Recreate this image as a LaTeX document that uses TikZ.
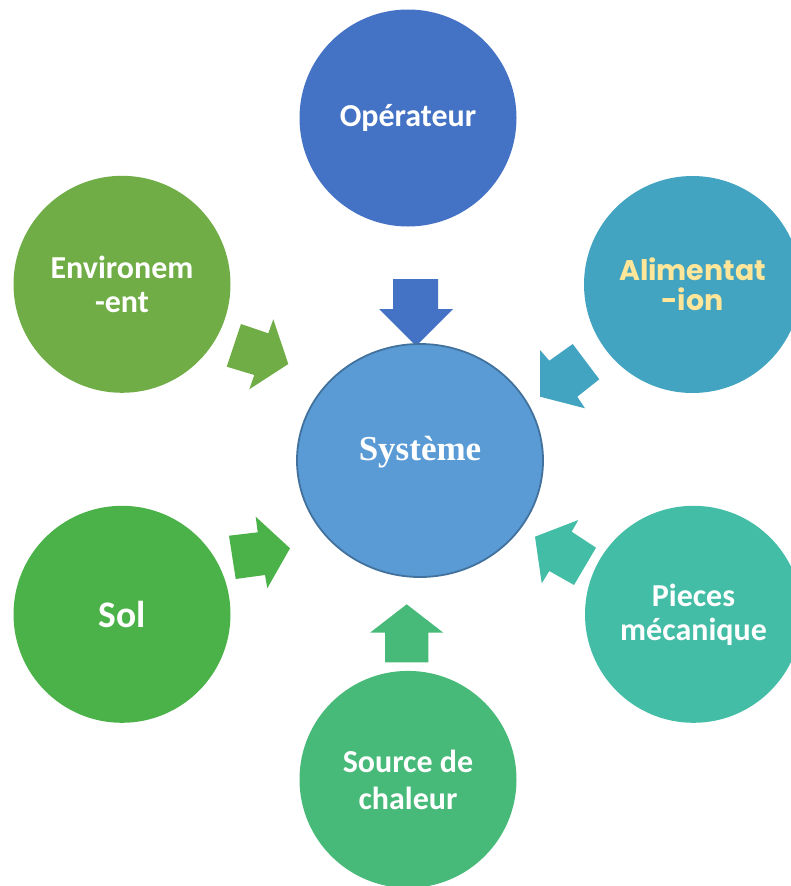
\documentclass[tikz,border=0pt]{standalone}
\usepackage{fontspec}
\usetikzlibrary{shapes.geometric}
\setmainfont{Carlito}
\newfontfamily\gothicfont{Poppins}
\newfontfamily\timesfont{Liberation Serif}
\definecolor{cOper}{RGB}{68,114,196}
\definecolor{cAlim}{RGB}{67,164,193}
\definecolor{cEnv}{RGB}{112,173,71}
\definecolor{cSol}{RGB}{74,178,72}
\definecolor{cSrc}{RGB}{71,185,120}
\definecolor{cPiec}{RGB}{68,189,167}
\definecolor{cSys}{RGB}{91,155,213}
\definecolor{cSysB}{RGB}{65,113,156}
\definecolor{cYel}{RGB}{255,230,153}
\tikzset{
  bubble/.style={circle, minimum size=217pt, inner sep=0pt, text=white, align=center,
    font=\bfseries\fontsize{32}{34}\selectfont},
  blockarrow/.style={draw=none},
}
\begin{document}
\begin{tikzpicture}[x=1pt,y=-1pt]
\useasboundingbox (0,0) rectangle (791,886);
% block arrows
\fill[blockarrow, cOper] (393,279) -- (438,279) -- (438,309) -- (453,309) -- (416,346) -- (379,309) -- (393,309) -- cycle;
\fill[blockarrow, cSrc] (406.7,604.3) -- (443.3,632.7) -- (428.3,632.7) -- (428.3,662.3) -- (385,662.3) -- (385,632.7) -- (370,632.7) -- cycle;
\fill[blockarrow, cEnv] (241,324) -- (268.3,333.3) -- (273.3,319.3) -- (288.3,364) -- (249.3,389.3) -- (254.3,375) -- (226.7,366.7) -- cycle;
\fill[blockarrow, cSol] (229,535.7) -- (257.7,532.3) -- (255.7,516.7) -- (290,548.3) -- (267.3,588.3) -- (265,575) -- (235.7,579) -- cycle;
\fill[blockarrow, cAlim] (540,350) -- (549.3,360.7) -- (572.7,344) -- (599.3,379.3) -- (577.3,396.7) -- (585,408.3) -- (540,396.7) -- cycle;
\fill[blockarrow, cPiec] (535,536.7) -- (578.3,520) -- (571.7,531.7) -- (596,547.7) -- (574,585) -- (549.3,571) -- (541.7,583.3) -- cycle;
% centre
\node[draw=cSysB, line width=1.8pt, fill=cSys, ellipse, minimum width=246pt, minimum height=233pt, inner sep=0pt,
  text=white, font=\timesfont\bfseries\fontsize{35}{40}\selectfont] (sys) at (420,460.5) {\raisebox{8pt}[\height][\depth]{Système}};
% outer bubbles
\node[bubble, fill=cOper] (oper) at (408,118) {Opérateur};
\node[bubble, fill=cAlim, text=cYel, font=\gothicfont\bfseries\fontsize{28.4}{30}\selectfont] (alim) at (692.5,284.5) {Alimentat\\-ion};
\node[bubble, fill=cEnv] (env) at (122,284.3) {Environem\\-ent};
\node[bubble, fill=cSol, font=\bfseries\fontsize{37.5}{40}\selectfont] (sol) at (122,614.3) {Sol};
\node[bubble, fill=cSrc, font=\bfseries\fontsize{32}{37}\selectfont] (src) at (408,779.4) {Source de\\chaleur};
\node[bubble, fill=cPiec, font=\bfseries\fontsize{32}{34}\selectfont] (piec) at (693.5,614.3) {Pieces\\mécanique};
\end{tikzpicture}
\end{document}
